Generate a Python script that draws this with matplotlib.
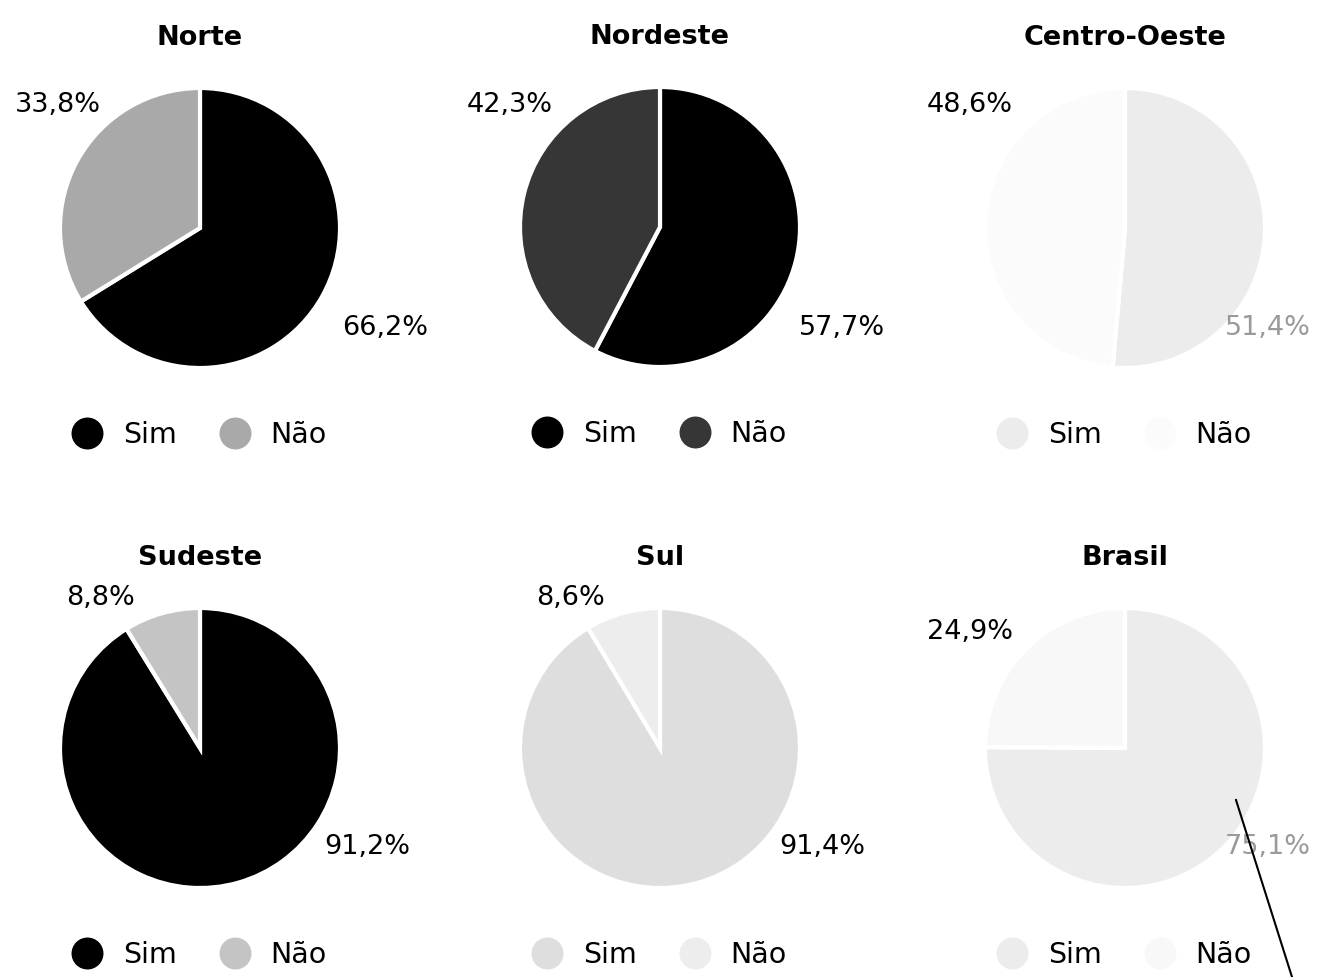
import matplotlib
matplotlib.use('Agg')
import matplotlib.pyplot as plt
from matplotlib.lines import Line2D

plt.rcParams['font.family'] = ['DejaVu Sans']

# dados por região (% de respostas)
regioes = ['Norte', 'Nordeste', 'Centro-Oeste', 'Sudeste', 'Sul', 'Brasil']
sim = [66.2, 57.7, 51.4, 91.2, 91.4, 75.1]
nao = [33.8, 42.3, 48.6, 8.8, 8.6, 24.9]
categorias = ['Sim', 'Não']

# tons de cinza de cada fatia (Sim, Não)
cores = [
    ('#000000', '#a9a9a9'),
    ('#000000', '#363636'),
    ('#ececec', '#fbfbfb'),
    ('#000000', '#c4c4c4'),
    ('#dedede', '#ededed'),
    ('#ececec', '#f8f8f8'),
]
# cor do rótulo percentual da fatia Sim (alguns saíram apagados)
cor_rotulo_sim = ['black', 'black', '#9a9a9a', 'black', 'black', '#9a9a9a']

W, H = 1334, 977
R = 140  # raio da pizza em px
centros = [(200, 228), (660, 227), (1125, 228),
           (200, 748), (660, 748), (1125, 748)]
# posição dos rótulos (px relativos ao centro): (Não, Sim)
pos_rotulos = [
    ((-142, 123), (185, -100)),
    ((-150, 122), (182, -101)),
    ((-155, 123), (143, -100)),
    ((-100, 150), (167, -99)),
    ((-90, 150), (162, -99)),
    ((-155, 116), (143, -99)),
]

fig = plt.figure(figsize=(W / 100, H / 100), dpi=100)
fig.patch.set_facecolor('white')

for i, reg in enumerate(regioes):
    cx, cy = centros[i]
    ax = fig.add_axes([(cx - R) / W, 1 - (cy + R) / H, 2 * R / W, 2 * R / H])
    ax.pie([sim[i], nao[i]], colors=cores[i], startangle=90, counterclock=False,
           radius=1, wedgeprops=dict(edgecolor='white', linewidth=3))
    ax.set_xlim(-1, 1)
    ax.set_ylim(-1, 1)
    ax.set_aspect('equal')
    ax.axis('off')

    ax.text(0, 1 + 50 / R, reg, ha='center', va='center', fontsize=19.5, fontweight='bold',
            clip_on=False)

    (nx, ny), (sx, sy) = pos_rotulos[i]
    ax.text(nx / R, ny / R, f'{nao[i]:.1f}%'.replace('.', ','), ha='center', va='center',
            fontsize=19.5, clip_on=False)
    ax.text(sx / R, sy / R, f'{sim[i]:.1f}%'.replace('.', ','), ha='center', va='center',
            fontsize=19.5, color=cor_rotulo_sim[i], clip_on=False)

    handles = [Line2D([], [], marker='o', linestyle='', markersize=22,
                      markerfacecolor=c, markeredgecolor=c) for c in cores[i]]
    ax.legend(handles, categorias, loc='center', bbox_to_anchor=(0.5, 0.5 - 207 / (2 * R)),
              ncol=2, frameon=False, fontsize=20.5, handletextpad=0.76,
              columnspacing=1.53, handlelength=1.0)

# traço à caneta no canto inferior direito
fig.add_artist(Line2D([1236 / W, 1292 / W], [1 - 800 / H, 0], color='black', linewidth=1.5))

fig.savefig('out.png', dpi=100, facecolor='white')
